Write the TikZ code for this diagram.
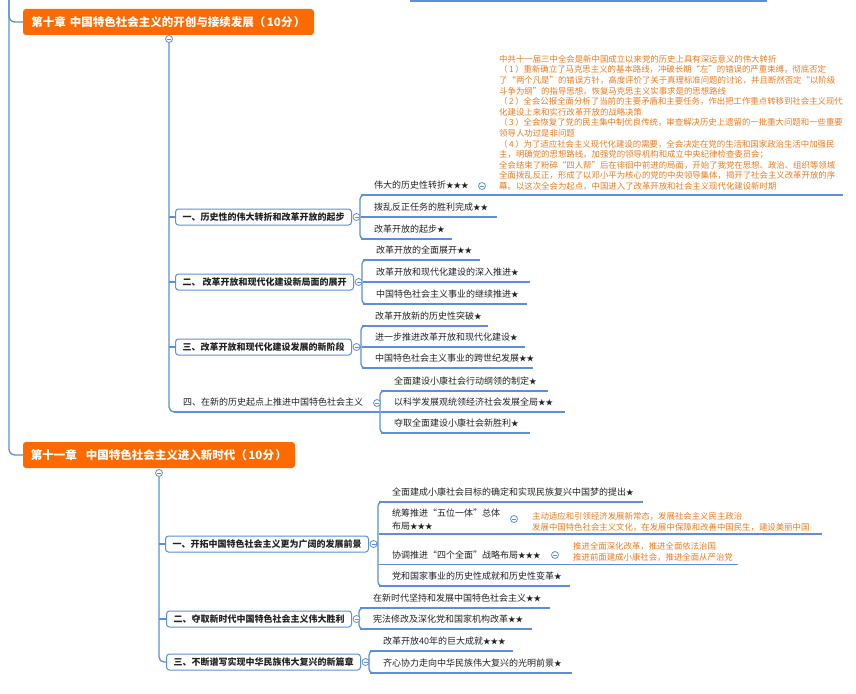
\documentclass[tikz,border=0pt]{standalone}
\usepackage{fontspec}
\setmainfont{Noto Sans CJK SC}
\usetikzlibrary{calc}
\definecolor{lb}{HTML}{5B8FD8}
\definecolor{orbox}{HTML}{FF6A00}
\definecolor{ortext}{HTML}{F07A1E}
\definecolor{txt}{HTML}{222222}
\newcommand\mystars[1]{{\fontsize{7.5}{7.5}\selectfont #1}}
\newcommand\leafbox[2]{\makebox[#1pt][l]{\hspace*{14pt}#2}}
\newcommand\pn[1]{（\hspace{1.5pt}#1\hspace{1.5pt}）}
\pgfdeclarelayer{bg}
\pgfsetlayers{bg,main}
\tikzset{
  link/.style={draw=lb, line width=1.3pt},
  uline/.style={draw=lb, line width=1.8pt},
  chap/.style={fill=orbox, rounded corners=3pt, text=white, font=\fontsize{11.5}{13}\selectfont\bfseries, minimum height=26pt, inner sep=0pt},
  sec/.style={draw=lb, line width=1pt, fill=white, rounded corners=3pt, font=\fontsize{9}{11}\selectfont\bfseries, minimum height=16pt, inner xsep=7pt, inner ysep=0pt, anchor=west, text=txt},
  leaf/.style={anchor=south west, inner sep=0pt, text depth=6.2pt, font=\fontsize{9}{11}\selectfont, text=txt},
  note/.style={anchor=south west, inner sep=0pt, font=\fontsize{8.4}{10.6}\selectfont, text=ortext},
  fold/.style={circle, draw=lb, line width=0.8pt, fill=white, minimum size=7pt, inner sep=0pt,
    path picture={\draw[lb, line width=0.7pt] ([xshift=-2pt]path picture bounding box.center) -- ([xshift=2pt]path picture bounding box.center);}}
}
\begin{document}
\begin{tikzpicture}[x=1pt,y=-1pt]
\useasboundingbox (0,0) rectangle (856,693);
\begin{pgfonlayer}{bg}
\fill[white] (0,0) rectangle (856,693);
\end{pgfonlayer}

% ---------- top remnant and left trunk
\coordinate (prevL) at (410,1.2);
\coordinate (prevR) at (767,1.2);
\coordinate (trunk) at (9,0);

% ---------- chapter 10
\node[chap, minimum width=291pt] (ch10) at (168.5,22) {第十章\hspace{4pt}中国特色社会主义的开创与接续发展\pn{10分}};
\node[sec] (s1) at (175,217) {一、历史性的伟大转折和改革开放的起步};
\node[sec] (s2) at (175,282) {二、 改革开放和现代化建设新局面的展开};
\node[sec] (s3) at (175,347) {三、改革开放和现代化建设发展的新阶段};
\node[leaf, text depth=6pt] (s4) at (169,412) {\leafbox{211}{四、在新的历史起点上推进中国特色社会主义}};

\node[leaf] (a1) at (360,195) {\leafbox{115}{伟大的历史性转折\mystars{★★★}}};
\node[leaf] (a2) at (360,217) {\leafbox{137}{拨乱反正任务的胜利完成\mystars{★★}}};
\node[leaf] (a3) at (360,239) {\leafbox{92}{改革开放的起步\mystars{★}}};

\node[leaf] (b1) at (362,260) {\leafbox{118}{改革开放的全面展开\mystars{★★}}};
\node[leaf] (b2) at (362,282) {\leafbox{168}{改革开放和现代化建设的深入推进\mystars{★}}};
\node[leaf] (b3) at (362,304) {\leafbox{165}{中国特色社会主义事业的继续推进\mystars{★}}};

\node[leaf] (c1) at (361,326) {\leafbox{127}{改革开放新的历史性突破\mystars{★}}};
\node[leaf] (c2) at (361,347) {\leafbox{164}{进一步推进改革开放和现代化建设\mystars{★}}};
\node[leaf] (c3) at (361,368) {\leafbox{172}{中国特色社会主义事业的跨世纪发展\mystars{★★}}};

\node[leaf] (d1) at (380,391) {\leafbox{168}{全面建设小康社会行动纲领的制定\mystars{★}}};
\node[leaf] (d2) at (380,412) {\leafbox{185}{以科学发展观统领经济社会发展全局\mystars{★★}}};
\node[leaf] (d3) at (380,433) {\leafbox{150}{夺取全面建设小康社会新胜利\mystars{★}}};

\node[note, text depth=5.8pt] (n1) at (499,195.5) {\begin{tabular}[b]{@{}l@{}}
中共十一届三中全会是新中国成立以来党的历史上具有深远意义的伟大转折\\
\pn{1}重新确立了马克思主义的基本路线，冲破长期“左”的错误的严重束缚，彻底否定\\
了“两个凡是”的错误方针，高度评价了关于真理标准问题的讨论，并且断然否定“以阶级\\
斗争为纲”的指导思想，恢复马克思主义实事求是的思想路线\\
\pn{2}全会公报全面分析了当前的主要矛盾和主要任务，作出把工作重点转移到社会主义现代\\
化建设上来和实行改革开放的战略决策\\
\pn{3}全会恢复了党的民主集中制优良传统，审查解决历史上遗留的一批重大问题和一些重要\\
领导人功过是非问题\\
\pn{4}为了适应社会主义现代化建设的需要，全会决定在党的生活和国家政治生活中加强民\\
主，明确党的思想路线，加强党的领导机构和成立中央纪律检查委员会；\\
全会结束了粉碎“四人帮”后在徘徊中前进的局面，开始了我党在思想、政治、组织等领域\\
全面拨乱反正，形成了以邓小平为核心的党的中央领导集体，揭开了社会主义改革开放的序\\
幕。以这次全会为起点，中国进入了改革开放和社会主义现代化建设新时期
\end{tabular}};

\node[fold] (k10) at (169,39) {};
\node[fold] (k11) at ($(s1.east)+(4.5,0)$) {};
\node[fold] (k12) at ($(s2.east)+(4.5,0)$) {};
\node[fold] (k13) at ($(s3.east)+(4.5,0)$) {};
\node[fold] (k14) at (377,403) {};
\node[fold] (k15) at (482,186) {};

% ---------- chapter 11
\node[chap, minimum width=272pt] (ch11) at (159,455) {第十一章\hspace{9pt}中国特色社会主义进入新时代\pn{10分}};
\node[sec] (t1) at (165,544) {一、开拓中国特色社会主义更为广阔的发展前景};
\node[sec] (t2) at (166,619) {二、夺取新时代中国特色社会主义伟大胜利};
\node[sec] (t3) at (166,662) {三、不断谱写实现中华民族伟大复兴的新篇章};

\node[leaf] (e1) at (378,502) {\leafbox{265}{全面建成小康社会目标的确定和实现民族复兴中国梦的提出\mystars{★}}};
\node[leaf, text depth=4.6pt] (e2) at (378,534) {\leafbox{140}{\fontsize{9}{13}\selectfont\begin{tabular}[b]{@{}l@{}}统筹推进“五位一体”总体\\布局\mystars{★★★}\end{tabular}}};
\node[leaf] (e3) at (378,564.5) {\leafbox{187}{协调推进“四个全面”战略布局\mystars{★★★}}};
\node[leaf] (e4) at (378,586) {\leafbox{192}{党和国家事业的历史性成就和历史性变革\mystars{★}}};

\node[note, text depth=3.8pt] (n2) at (532,534) {\fontsize{8.4}{11}\selectfont\begin{tabular}[b]{@{}l@{}}
主动适应和引领经济发展新常态，发展社会主义民主政治\\
发展中国特色社会主义文化，在发展中保障和改善中国民生，建设美丽中国
\end{tabular}};
\node[note, text depth=4.3pt] (n3) at (573,564.5) {\fontsize{8.4}{11}\selectfont\begin{tabular}[b]{@{}l@{}}
推进全面深化改革，推进全面依法治国\\
推进前面建成小康社会，推进全面从严治党
\end{tabular}};

\node[leaf] (f1) at (359,608) {\leafbox{191}{在新时代坚持和发展中国特色社会主义\mystars{★★}}};
\node[leaf] (f2) at (359,629) {\leafbox{173}{宪法修改及深化党和国家机构改革\mystars{★★}}};

\node[leaf] (g1) at (369,651) {\leafbox{144}{改革开放40年的巨大成就\mystars{★★★}}};
\node[leaf] (g2) at (369,673) {\leafbox{203}{齐心协力走向中华民族伟大复兴的光明前景\mystars{★}}};

\node[fold] (k20) at (159,473) {};
\node[fold] (k21) at ($(t1.east)+(4.5,0)$) {};
\node[fold] (k22) at ($(t2.east)+(4.5,0)$) {};
\node[fold] (k23) at ($(t3.east)+(4.5,0)$) {};
\node[fold] (k24) at (514,519) {};
\node[fold] (k25) at (555,555) {};

% ---------- connectors
\begin{pgfonlayer}{bg}
\draw[uline] (prevL) -- (prevR);
\draw[link, rounded corners=6pt] (trunk) |- (ch10.west);
\draw[link, rounded corners=6pt] (trunk) |- (ch11.west);

% chapter 10 trunk
\draw[link, rounded corners=5pt] (k10.center) |- (s4.south east);
\draw[uline] ($(s4.south west)+(5,0)$) -- (s4.south east);
\foreach \s in {s1,s2,s3} \draw[link] (k10.center |- \s.west) -- (\s.west);

% section brackets (chapter 10)
\foreach \k/\p/\q in {k11/a1/a3, k12/b1/b3, k13/c1/c3, k14/d1/d3} {
  \draw[link, rounded corners=4pt] ($(\p.south west)+(8,0)$) -- (\p.south west) -- (\q.south west) -- ($(\q.south west)+(8,0)$);
}
\foreach \k/\p in {k11/a1, k12/b1, k13/c1} \draw[link] (\k.center) -- (\k.center -| \p.south west);
\foreach \n in {a2,a3,b1,b2,b3,c1,c2,c3,d1,d2,d3} \draw[uline] ($(\n.south west)+(1,0)$) -- (\n.south east);
\draw[uline] ($(a1.south west)+(1,0)$) -- (a1.south west -| n1.east);

% chapter 11 trunk
\draw[link, rounded corners=5pt] (k20.center) |- (t3.west);
\foreach \s in {t1,t2} \draw[link] (k20.center |- \s.west) -- (\s.west);
\foreach \k/\p/\q in {k21/e1/e4, k22/f1/f2, k23/g1/g2} {
  \draw[link, rounded corners=4pt] ($(\p.south west)+(8,0)$) -- (\p.south west) -- (\q.south west) -- ($(\q.south west)+(8,0)$);
  \draw[link] (\k.center) -- (\k.center -| \p.south west);
}
\foreach \n in {e1,e4,f1,f2,g1,g2} \draw[uline] ($(\n.south west)+(1,0)$) -- (\n.south east);
\draw[uline] ($(e2.south west)+(1,0)$) -- ($(e2.south west -| n2.east)+(12,0)$);
\draw[uline] ($(e3.south west)+(1,0)$) -- ($(e3.south west -| n3.east)+(5,0)$);
\end{pgfonlayer}
\end{tikzpicture}
\end{document}
